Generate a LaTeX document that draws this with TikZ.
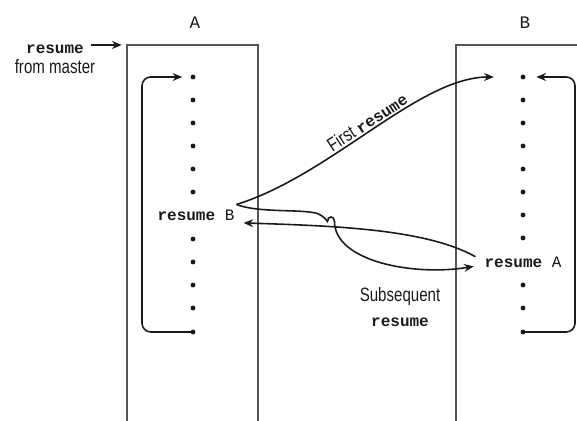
\documentclass[tikz,border=0pt]{standalone}
\usepackage{fontspec}
\newfontfamily\labelsans[FakeStretch=0.78]{Liberation Sans}
\newfontfamily\codefont{Liberation Mono}
\usetikzlibrary{positioning,arrows.meta,calc}
\definecolor{ink}{HTML}{1A1A1A}
\definecolor{frameC}{HTML}{555555}
\newcommand{\kwd}[1]{{\codefont\fontsize{9.1}{11}\selectfont\bfseries #1}}
\tikzset{
  frame/.style={draw=frameC, line width=0.7pt},
  dot/.style={circle, fill=ink, inner sep=0pt, minimum size=2.8pt},
  code/.style={font=\codefont\fontsize{9.1}{11}\selectfont, text=ink, inner sep=1pt},
  plain/.style={font=\labelsans\fontsize{11}{14.7}\selectfont, text=ink, inner sep=1pt},
  flow/.style={-{Stealth[length=5.5pt,width=4.5pt]}, line width=0.9pt, draw=ink},
}

\begin{document}
\begin{tikzpicture}[x=0.02cm, y=-0.02cm]
  \useasboundingbox (0,0) rectangle (577,421);

  % the two frames, open at the bottom
  \coordinate (cA) at (127,45);
  \coordinate (cB) at (456,45);
  \draw[frame] (127,421) |- (258,45) -- (258,421);
  \draw[frame] (456,421) |- (577,45);
  \node[code, font=\codefont\fontsize{10}{12}\selectfont] (lblA) at (195,23) {A};
  \node[code, font=\codefont\fontsize{10}{12}\selectfont] (lblB) at (525,23) {B};

  % statements, one dot each
  \foreach \i/\y in {1/77,2/100,3/123,4/146,5/169,6/192,7/239,8/262,9/285,10/308,11/332}
    \node[dot] (a\i) at (193,\y) {};
  \foreach \i/\y in {1/77,2/100,3/123,4/146,5/169,6/192,7/215,8/238,9/285,10/308,11/332}
    \node[dot] (b\i) at (523,\y) {};
  \node[code] (resB) at (196,215) {\textbf{resume} B};
  \node[code] (resA) at (523,262) {\textbf{resume} A};

  % entry from master
  \node[code] (mst) at (55,49) {\textbf{resume}};
  \node[plain] (mstsub) at (55,67) {from master};
  \draw[flow, shorten <=3pt, shorten >=3pt] (mst.east |- cA) -- (cA);

  % each frame loops back to its top
  \draw[flow, rounded corners=5pt, shorten >=4.5pt] (a11.center) -- ++(-51,0) |- (a1.west);
  \draw[flow, rounded corners=5pt, shorten >=6pt] (b11.center) -- ++(52,0) |- (b1.east);

  % transfers between A and B
  \draw[flow] ([yshift=6pt]resB.east) .. controls +(94,-29) and +(-75,0) .. ([xshift=-15pt]b1.west)
    node[plain, pos=0.5, above, sloped] {First \kwd{resume}};
  \draw[flow] ([yshift=6pt]resB.east)
      .. controls +(20,8) and +(-18,-3) .. ++(76,8)
      .. controls +(8,1) and +(-3,-4) .. ++(15,9)
      .. controls +(0,-6) and +(0,-6) .. ++(7,0)
      .. controls +(0,40) and +(-60,10) .. ([xshift=-5pt,yshift=-2.5pt]resA.west);
  \draw[flow] ([xshift=-4pt,yshift=3pt]resA.west) .. controls +(-50,-28) and +(90,3) .. ([xshift=4pt,yshift=-4.5pt]resB.east);
  \node[plain, align=center] (subs) at (400,307) {Subsequent\\\kwd{resume}};
\end{tikzpicture}
\end{document}
